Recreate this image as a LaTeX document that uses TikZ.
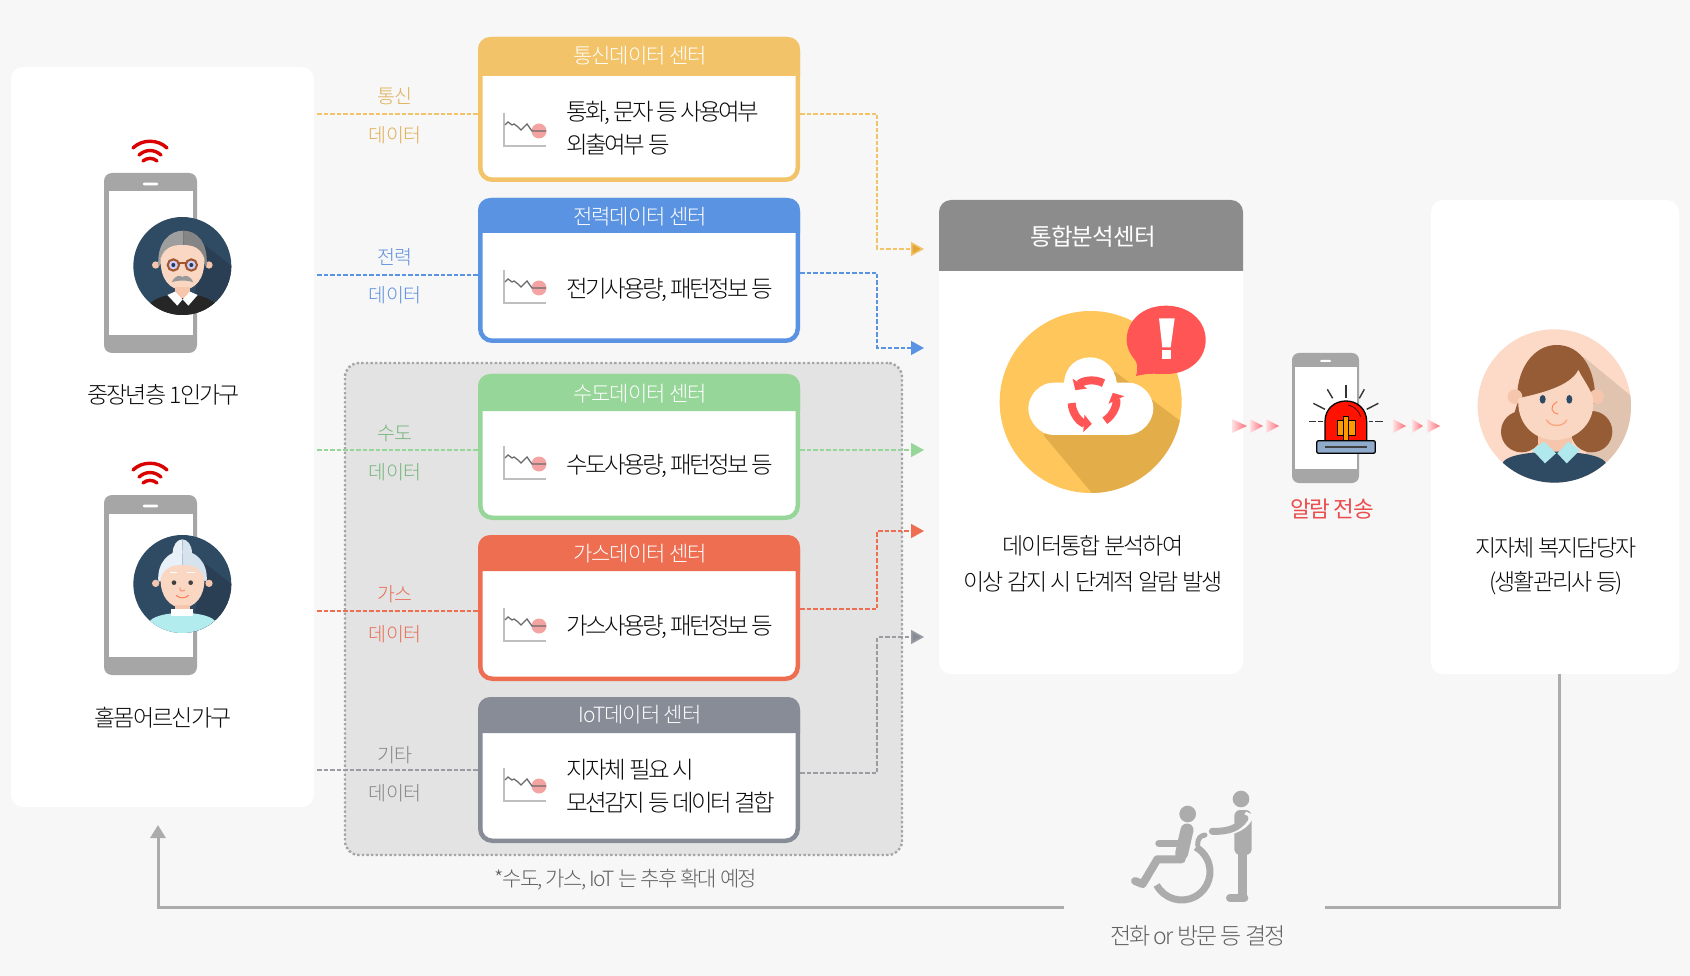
\documentclass[tikz,border=0pt]{standalone}
\usepackage{fontspec}
\usetikzlibrary{arrows.meta,calc}
\newfontfamily\kr[LetterSpace=-3.5]{Noto Sans CJK KR Light}
\newfontfamily\krt[LetterSpace=-5]{Noto Sans CJK KR Light}
\newfontfamily\krd[LetterSpace=-8]{Noto Sans CJK KR Light}
\newfontfamily\krn[LetterSpace=-11]{Noto Sans CJK KR Light}
\newfontfamily\krb[LetterSpace=-3.5]{Noto Sans CJK KR}
\newfontfamily\krc[LetterSpace=-6]{Noto Sans CJK KR}
\newcommand{\fs}[1]{\fontsize{#1pt}{#1pt}\selectfont}
\definecolor{bgc}{HTML}{F7F7F7}
\definecolor{cy}{HTML}{F2C368}\definecolor{cb}{HTML}{5B93E3}\definecolor{cg}{HTML}{97D699}
\definecolor{cr}{HTML}{EE6E52}\definecolor{cs}{HTML}{878C96}\definecolor{cl}{HTML}{9A9CA2}
\definecolor{ty}{HTML}{E0AE55}\definecolor{tb}{HTML}{5F90DF}\definecolor{tg}{HTML}{78B67C}
\definecolor{tr}{HTML}{E86F57}\definecolor{ts}{HTML}{858585}
\definecolor{ay}{HTML}{E3A535}
\definecolor{navy}{HTML}{2F4A63}\definecolor{navyd}{HTML}{2B3F54}
\definecolor{skin}{HTML}{FAD7C2}\definecolor{skind}{HTML}{F5C6AB}
\definecolor{alarm}{HTML}{FF5555}\definecolor{phone}{HTML}{A6A6A6}\definecolor{chair}{HTML}{ACACAC}
\definecolor{sun}{HTML}{FFC65C}\definecolor{sund}{HTML}{E3AE4A}
\definecolor{hair}{HTML}{955C36}\definecolor{wbg}{HTML}{FDD9C8}\definecolor{wsh}{HTML}{E0C4B0}
\definecolor{pinkc}{HTML}{F4A3A3}\definecolor{arrp}{HTML}{FF6B75}
\definecolor{glass}{HTML}{A0562A}\definecolor{grh}{HTML}{E8F0F8}\definecolor{grh2}{HTML}{D6E3EF}\definecolor{grb}{HTML}{B2ECEF}
\definecolor{base}{HTML}{8FAACB}\definecolor{collar}{HTML}{B0E8EE}
\tikzset{
 panel/.style={fill=white,rounded corners=12pt,inner sep=0pt},
 card/.style={draw=#1,fill=white,line width=4.5pt,rounded corners=12pt,inner sep=0pt,minimum width=317.5pt},
 lbl/.style={font=\kr\fs{19.5},text=#1,inner sep=0pt,yshift=-1pt},
 title/.style={font=\krt\fs{21},text=white,inner sep=0pt,yshift=-1pt},
 body/.style={font=\krn\fs{23.5},text=black!96,inner sep=0pt,anchor=west,yshift=-1.5pt},
 dark/.style={font=\krd\fs{23},text=black!96,inner sep=0pt,yshift=-1.5pt},
 dline/.style={draw=#1,line width=1.5pt,dash pattern=on 4.5pt off 2pt},
 darr/.style 2 args={draw=#1,line width=1.5pt,dash pattern=on 4.5pt off 2pt,-{Triangle[length=13pt,width=14pt,fill=#2]}},
 z3/.style={x=0.33333pt,y=-0.33333pt},
 fb/.style={draw=chair,line width=3pt},
 sw/.style={line cap=round,draw=#1}
}
\newcommand{\cardbox}[7]{% name, colour, top, headbottom, bottom, title, title y
 \pgfmathsetmacro{\ch}{#5-#3-4.5}\pgfmathsetmacro{\cc}{(#5+#3)/2}
 \node[card=#2,minimum height=\ch pt] (#1) at (639,\cc) {};
 \fill[#2] (478,#4) [rounded corners=12pt] -- (478,#3) -- (800,#3) [sharp corners] -- (800,#4) -- cycle;
 \node[title] (#1t) at (640,#7) {#6};}
\newcommand{\charticon}[1]{\begin{scope}[shift={(0,#1)}]
 \fill[pinkc] (539,18) circle[radius=7.5];
 \draw[black!25,line width=1.4pt] (504,0) -- (504,33) -- (546,33);
 \draw[black!58,line width=1.3pt] (505,12) -- (508,9) -- (512,12) -- (514,11) -- (518,14) -- (521,17) -- (527,11) -- (532,18) -- (546,18);
 \end{scope}}
\newcommand{\phonebody}[1]{\begin{scope}[shift={(0,#1)}]
 \fill[phone,rounded corners=8pt] (104,173) rectangle (197,353);
 \fill[white] (108.5,191.5) rectangle (192.5,335);
 \fill[white,rounded corners=1pt] (143,182.7) rectangle (158,185.3);
 \draw[red!85!black,line width=3.4pt,line cap=round] (133,148) .. controls (142,139) and (158,139) .. (167,148);
 \draw[red!85!black,line width=3.4pt,line cap=round] (139,155) .. controls (146,149) and (154,149) .. (161,155);
 \draw[red!85!black,line width=3.4pt,line cap=round] (143,161) .. controls (147,157.5) and (153,157.5) .. (157,161);
 \end{scope}}
\begin{document}
\begin{tikzpicture}[x=1pt,y=-1pt]
\useasboundingbox (0,0) rectangle (1690,976);
\fill[bgc] (0,0) rectangle (1690,976);
% panels
\node[panel,minimum width=303pt,minimum height=740pt] (pl) at (162.5,437) {};
\node[panel,minimum width=248pt,minimum height=474pt] (pr) at (1555,437) {};
\node[panel,minimum width=304pt,minimum height=474pt] (pc) at (1091,437) {};
\fill[black!45] (939,271) [rounded corners=12pt] -- (939,200) -- (1243,200) [sharp corners] -- (1243,271) -- cycle;
\node[font=\krb\fs{23.5},text=white,inner sep=0pt] (pct) at (1093,237) {통합분석센터};
% gray group
\node[draw=black!35,fill=black!11,line width=2.4pt,dash pattern=on 2.4pt off 2.2pt,rounded corners=14pt,minimum width=557pt,minimum height=492pt,inner sep=0pt] (grp) at (623.5,609) {};
% named ends
\coordinate (l1) at (317,114);\coordinate (l2) at (317,275);\coordinate (l3) at (317,450);\coordinate (l4) at (317,611);\coordinate (l5) at (317,770);
\coordinate (r1) at (800,114);\coordinate (r2) at (800,273);\coordinate (r3) at (800,450);\coordinate (r4) at (800,609);\coordinate (r5) at (800,773);
\coordinate (t1) at (924,249);\coordinate (t2) at (924,348);\coordinate (t3) at (924,450);\coordinate (t4) at (924,531);\coordinate (t5) at (924,637);
% cards
\cardbox{c1}{cy}{37}{76}{182}{통신데이터 센터}{55}
\cardbox{c2}{cb}{198}{233}{343}{전력데이터 센터}{216}
\cardbox{c3}{cg}{374}{411}{520}{수도데이터 센터}{393}
\cardbox{c4}{cr}{535}{571}{681}{가스데이터 센터}{553}
\cardbox{c5}{cs}{697}{733}{843}{IoT데이터 센터}{714}
% left connectors
\draw[dline=cy] (l1) -- (l1 -| c1.west);
\draw[dline=cb] (l2) -- (l2 -| c2.west);
\draw[dline=cg] (l3) -- (l3 -| c3.west);
\draw[dline=cr] (l4) -- (l4 -| c4.west);
\draw[dline=cl] (l5) -- (l5 -| c5.west);
% right connectors
\draw[darr={cy}{ay}] (r1 -| c1.east) -- (877,114) -- (877,249) -- (t1);
\draw[darr={cb}{cb}] (r2 -| c2.east) -- (877,273) -- (877,348) -- (t2);
\draw[darr={cg}{cg}] (r3 -| c3.east) -- (t3);
\draw[darr={cr}{cr}] (r4 -| c4.east) -- (877,609) -- (877,531) -- (t4);
\draw[darr={cl}{cs}] (r5 -| c5.east) -- (877,773) -- (877,637) -- (t5);
% labels
\node[lbl=ty] (a1) at (395,95) {통신};\node[lbl=ty] (a2) at (395,134) {데이터};
\node[lbl=tb] (b1) at (395,256) {전력};\node[lbl=tb] (b2) at (395,294) {데이터};
\node[lbl=tg] (d1) at (395,433) {수도};\node[lbl=tg] (d2) at (395,471) {데이터};
\node[lbl=tr] (e1) at (395,593) {가스};\node[lbl=tr] (e2) at (395,633) {데이터};
\node[lbl=ts] (f1) at (395,754) {기타};\node[lbl=ts] (f2) at (395,792) {데이터};
% bodies
\charticon{113}\charticon{270}\charticon{446}\charticon{608}\charticon{768}
\node[body] (m1a) at (566.5,111) {통화, 문자 등 사용여부};
\node[body] (m1b) at (566.5,143) {외출여부 등};
\node[body] (m2) at (566.5,288) {전기사용량, 패턴정보 등};
\node[body] (m3) at (566.5,464) {수도사용량, 패턴정보 등};
\node[body] (m4) at (566.5,625) {가스사용량, 패턴정보 등};
\node[body] (m5a) at (566.5,768) {지자체 필요 시};
\node[body] (m5b) at (566.5,801) {모션감지 등 데이터 결합};
% footnote
\node[font=\krd\fs{21},text=black!62,inner sep=0pt,yshift=-1pt] (fn) at (626,879) {*수도, 가스, IoT 는 추후 확대 예정};
% phones
\phonebody{0}\phonebody{322}
\node[dark] (h1) at (163.5,393) {중장년층 1인가구};
\node[dark] (h2) at (163,716) {홀몸어르신가구};
% old man
\begin{scope}[shift={(90,130)},z3]
 \fill[navy] (277,408) circle[radius=147];
 \begin{scope}\clip (277,408) circle[radius=147];
  \fill[navyd] (345,345) -- (440,420) -- (440,560) -- (300,560) -- cycle;
  \fill[skind] (197,405) circle[radius=11] (357,405) circle[radius=11];
  \fill[black!85] (175,525) .. controls (215,480) and (340,480) .. (380,525) -- (380,570) -- (175,570) -- cycle;
 \end{scope}
 \fill[black!38] (205,410) .. controls (200,335) and (240,302) .. (280,302) -- (280,360) -- (225,390) -- cycle;
 \fill[black!48] (280,302) .. controls (320,302) and (355,335) .. (350,410) -- (330,390) -- (280,360) -- cycle;
 \fill[skin] (212,385) .. controls (225,350) and (250,345) .. (277,345) .. controls (305,345) and (330,350) .. (343,385) .. controls (345,450) and (315,478) .. (277,480) .. controls (240,478) and (210,450) .. (212,385) -- cycle;
 \fill[skind] (255,470) rectangle (300,505);
 \draw[glass,line width=2pt,fill=white!80!blue] (250,405) circle[radius=17] (304,405) circle[radius=17];
 \draw[glass,line width=2pt] (267,400) -- (287,400);
 \fill[navy!80!black] (250,405) circle[radius=6] (304,405) circle[radius=6];
 \fill[black!40] (245,457) .. controls (255,435) and (270,435) .. (277,441) .. controls (285,435) and (300,435) .. (310,457) .. controls (295,450) and (260,450) .. (245,457) -- cycle;
 \fill[white] (232,495) -- (255,485) -- (278,508) -- (262,527) -- cycle;
 \fill[white] (323,495) -- (300,485) -- (278,508) -- (295,527) -- cycle;
\end{scope}
% granny
\begin{scope}[shift={(90,450)},z3]
 \fill[navy] (277,402) circle[radius=147];
 \begin{scope}\clip (277,402) circle[radius=147];
  \fill[navyd] (345,340) -- (440,415) -- (440,555) -- (300,555) -- cycle;
  \fill[skind] (197,400) circle[radius=11] (357,400) circle[radius=11];
  \fill[grb] (175,520) .. controls (190,478) and (365,478) .. (380,520) -- (380,570) -- (175,570) -- cycle;
 \end{scope}
 \fill[grh] (277,268) .. controls (262,268) and (248,285) .. (248,310) -- (277,310) -- cycle;
 \fill[grh2] (277,268) .. controls (292,268) and (306,285) .. (306,310) -- (277,310) -- cycle;
 \fill[grh] (205,395) .. controls (200,335) and (240,302) .. (277,302) -- (277,360) -- (225,390) -- cycle;
 \fill[grh2] (277,302) .. controls (315,302) and (355,335) .. (350,395) -- (330,385) -- (277,360) -- cycle;
 \fill[skin] (212,385) .. controls (225,350) and (250,345) .. (277,345) .. controls (305,345) and (330,350) .. (343,385) .. controls (345,440) and (315,472) .. (277,474) .. controls (240,472) and (210,440) .. (212,385) -- cycle;
 \fill[skind] (255,465) rectangle (300,485);
 \fill[white] (243,478) rectangle (310,497);
 \draw[white,line width=1.5pt] (240,368) -- (262,368) (292,368) -- (314,368);
 \fill[black!75] (252,398) circle[radius=7] (302,398) circle[radius=7];
 \draw[red!55!orange!70,line width=.7pt] (270,412) .. controls (266,425) and (280,425) .. (284,420);
 \draw[red!55!orange!70,line width=.9pt] (258,436) .. controls (268,446) and (286,446) .. (296,436);
\end{scope}
% analysis icon
\begin{scope}[shift={(920,190)},z3]
 \fill[sun] (512,636) circle[radius=273];
 \begin{scope}\clip (512,636) circle[radius=273];
  \fill[sund] (585,545) -- (790,700) -- (790,950) -- (550,950) -- (370,735) -- cycle;
 \end{scope}
 \fill[white] (400,735) -- (620,735) .. controls (665,735) and (700,695) .. (700,655) .. controls (700,615) and (665,578) .. (625,578) -- (590,578) .. controls (585,530) and (550,502) .. (510,502) .. controls (470,502) and (435,530) .. (432,578) -- (400,578) .. controls (360,578) and (325,615) .. (325,655) .. controls (325,695) and (360,735) .. (400,735) -- cycle;
 \draw[alarm,line width=8pt,-{Triangle[length=8pt,width=17pt]}] (520,637) ++(-62:65) arc[start angle=-62,end angle=-146,radius=65];
 \draw[alarm,line width=8pt,-{Triangle[length=8pt,width=17pt]}] (520,637) ++(-182:65) arc[start angle=-182,end angle=-266,radius=65];
 \draw[alarm,line width=8pt,-{Triangle[length=8pt,width=17pt]}] (520,637) ++(58:65) arc[start angle=58,end angle=-26,radius=65];
 \fill[alarm] (738,347) .. controls (805,347) and (857,390) .. (857,450) .. controls (857,510) and (805,552) .. (738,552) .. controls (710,552) and (690,548) .. (648,558) .. controls (655,535) and (652,520) .. (645,510) .. controls (628,490) and (620,470) .. (620,450) .. controls (620,390) and (670,347) .. (738,347) -- cycle;
 \fill[white] (717,385) -- (764,385) -- (752,472) -- (727,472) -- cycle;
 \fill[white] (725,480) rectangle (754,506);
\end{scope}
\node[dark] (an1) at (1093,544) {데이터통합 분석하여};
\node[dark] (an2) at (1093,580) {이상 감지 시 단계적 알람 발생};
% pink arrows
\foreach \x/\w in {1232/15,1250/13,1266/13,1393/13,1412/11,1427/13}{
 \shade[left color=arrp!20!white,right color=arrp] (\x,419) -- ({\x+\w},426) -- (\x,433) -- cycle;}
% alarm phone
\fill[phone,rounded corners=7pt] (1292,353) rectangle (1359,483);
\fill[white] (1295,367) rectangle (1357,469);
\fill[white,rounded corners=1pt] (1320,360) rectangle (1331,362);
\begin{scope}[shift={(1220,190)},z3]
 \foreach \a/\b/\c/\d in {378/585/378/625,322/598/338/625,433/598/418/625,280/640/315/658,475/640/440/658,267/694/288/694,295/694/308/694,448/694/458/694,465/694/490/694}
  \draw[black!80,line width=1.4pt] (\a,\b) -- (\c,\d);
 \fill[red!85!orange,draw=black,line width=1.3pt] (315,752) -- (315,695) .. controls (315,655) and (345,633) .. (378,633) .. controls (410,633) and (440,655) .. (440,695) -- (440,752) -- cycle;
 \draw[black!70!red,line width=.8pt] (385,645) .. controls (405,650) and (418,665) .. (422,680);
 \fill[orange!80!yellow,draw=black,line width=.8pt] (352,690) rectangle (405,735);
 \fill[orange!80!yellow,draw=black,line width=.8pt] (370,680) rectangle (386,750);
 \fill[base,draw=black,line width=1.3pt,rounded corners=2pt] (290,752) rectangle (466,790);
 \draw[black!75,line width=1.4pt] (315,771) -- (440,771);
\end{scope}
\node[font=\krc\fs{22.5},text=alarm!92!black,inner sep=0pt,yshift=-1pt] (as) at (1332,508) {알람 전송};
% woman
\begin{scope}[shift={(1220,190)},z3]
 \fill[wbg] (1003,648) circle[radius=230];
 \begin{scope}\clip (1003,648) circle[radius=230];
  \fill[wsh] (1090,500) -- (1260,640) -- (1260,880) -- (1100,880) -- cycle;
  \fill[hair] (905,725) circle[radius=62] (1115,725) circle[radius=62];
  \fill[skind] (955,720) rectangle (1055,790);
  \fill[navy] (850,815) .. controls (880,775) and (1125,775) .. (1155,815) -- (1200,900) -- (810,900) -- cycle;
 \end{scope}
 \fill[hair] (892,640) .. controls (885,540) and (940,465) .. (1010,465) .. controls (1085,465) and (1130,540) .. (1125,640) -- (880,680) -- cycle;
 \fill[skind] (885,620) circle[radius=22] (1130,620) circle[radius=22];
 \fill[skin] (895,625) .. controls (960,610) and (1050,590) .. (1075,540) .. controls (1090,570) and (1115,600) .. (1120,630) .. controls (1125,700) and (1070,750) .. (1005,750) .. controls (940,750) and (890,700) .. (895,625) -- cycle;
 \fill[navy] (968,628) ellipse[x radius=9,y radius=13] (1048,628) ellipse[x radius=9,y radius=13];
 \draw[red!50!orange!65,line width=.9pt] (1012,635) .. controls (985,650) and (995,670) .. (1015,672);
 \draw[red!40!orange!50,line width=1.4pt,line cap=round] (980,690) .. controls (990,712) and (1030,712) .. (1040,690);
 \fill[collar] (937,780) -- (972,755) -- (1008,790) -- (975,820) -- cycle;
 \fill[collar] (1080,780) -- (1045,755) -- (1012,790) -- (1040,820) -- cycle;
\end{scope}
\node[dark] (w1) at (1556,546) {지자체 복지담당자};
\node[dark] (w2) at (1556,582) {(생활관리사 등)};
% feedback connector
\coordinate (f0) at (1325,907);\coordinate (f1) at (1064,907);\coordinate (f2) at (158,825);
\draw[fb] ([xshift=4pt]pr.south) |- (f0);
\draw[fb,-{Triangle[length=13pt,width=15pt]}] (f1) -| (f2);
% wheelchair
\begin{scope}[shift={(1050,770)},z3]
 \fill[chair] (413,132) circle[radius=25] (573,87) circle[radius=25];
 \draw[chair,line width=13pt,line cap=round] (411,180) -- (395,250);
 \draw[chair,line width=7.5pt,line cap=round] (327,220) -- (395,220);
 \draw[chair,line width=8pt,line cap=round,line join=round] (395,268) -- (322,268) -- (278,342) -- (255,333);
 \draw[chair,line width=7pt] (395,305) ++(152:85) arc[start angle=152,end angle=-60,radius=85];
 \draw[chair,line width=5pt,line cap=round] (443,225) .. controls (442,205) and (452,197) .. (465,195);
 \fill[chair,rounded corners=6pt] (553,120) rectangle (605,255);
 \draw[chair,line width=9pt] (578,250) -- (578,385);
 \draw[chair,line width=8pt,line cap=round] (540,384) -- (583,384);
 \draw[bgc,line width=9pt] (600,130) .. controls (590,165) and (550,185) .. (500,185);
 \draw[chair,line width=7pt,line cap=round] (585,145) .. controls (565,175) and (535,185) .. (487,184);
\end{scope}
\node[font=\krd\fs{23},text=black!62,inner sep=0pt,yshift=-1pt] (ft) at (1198,935) {전화 or 방문 등 결정};
\end{tikzpicture}
\end{document}
